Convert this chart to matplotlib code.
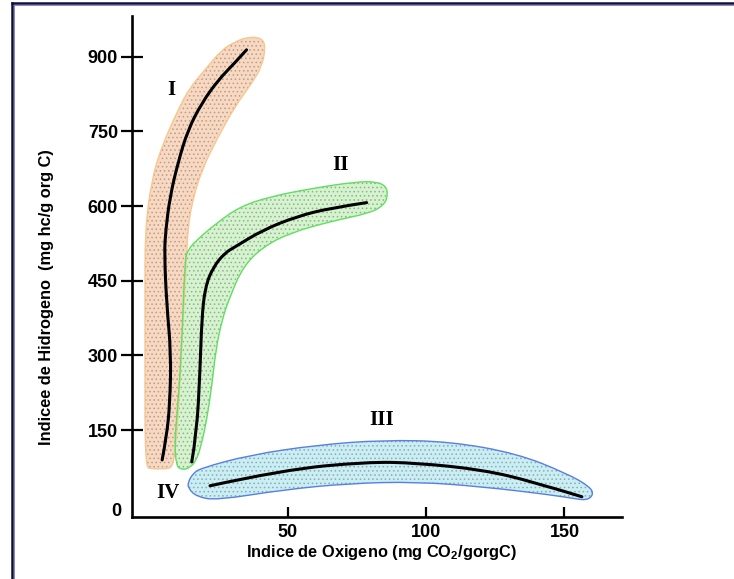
import matplotlib
matplotlib.use("Agg")
from matplotlib import pyplot as plt
from matplotlib.lines import Line2D
from matplotlib.path import Path
from matplotlib.patches import PathPatch

plt.rcParams['font.family'] = ['Liberation Sans', 'DejaVu Sans']
plt.rcParams['hatch.linewidth'] = 0.6

# eje x: indice de oxigeno, eje y: indice de hidrogeno
xticks = [50, 100, 150]
yticks = [150, 300, 450, 600, 750, 900]

# tipo I - linea central
tipo1_x = [4.6, 6.2, 7.4, 7.8, 6.2, 5.4, 5.9, 7.4, 10.3, 13.9, 18.9, 24.8, 30.9, 35.1]
tipo1_y = [90, 137, 204, 305, 405, 506, 552, 618, 687, 753, 807, 853, 888, 914]
# tipo I - zona sombreada
zona1_x = [-1.0, -1.6, -1.6, -1.6, -1.6, 0.8, 4.4, 10.3, 14.6, 20.1, 26.1, 30.9, 35.6, 40.6,
           42.0, 40.6, 37.0, 30.9, 24.8, 18.9, 15.3, 13.9, 13.5, 12.1, 11.0, 9.8, 8.9, 8.0,
           6.7, 0.2]
zona1_y = [76, 130, 251, 412, 552, 653, 719, 793, 838, 874, 914, 930, 940, 938,
           920, 880, 847, 800, 739, 673, 606, 552, 506, 371, 237, 137, 90, 76,
           72, 72]

# tipo II
tipo2_x = [15.3, 17.1, 18.3, 18.9, 20.1, 23.1, 27.3, 30.9, 41.0, 53.2, 65.3, 78.5]
tipo2_y = [86, 144, 271, 371, 437, 478, 506, 518, 552, 579, 596, 607]
zona2_x = [9.6, 9.2, 9.8, 11.6, 12.8, 13.9, 17.1, 24.3, 32.7, 43.6, 59.1, 74.9, 82.1,
           85.5, 86.2, 84.8, 79.7, 65.3, 50.8, 41.0, 33.8, 29.1, 26.2, 24.0, 22.6,
           20.7, 18.9, 17.1, 14.6, 11.8]
zona2_y = [78, 130, 170, 305, 492, 512, 532, 566, 599, 619, 636, 649, 649,
           640, 622, 602, 586, 569, 546, 518, 478, 418, 371, 311, 241,
           170, 124, 90, 74, 70]

# tipo III
tipo3_x = [21.9, 48.3, 78.5, 96.6, 120.6, 138.7, 156.3]
tipo3_y = [38, 70, 86, 84, 70, 46, 16]
zona3_x = [14.0, 15.7, 18.3, 36.3, 60.5, 84.4, 108.6, 132.8, 150.8, 159.3, 160.5,
           158.1, 153.8, 144.8, 120.6, 96.6, 72.5, 48.3, 24.3, 17.1, 14.0]
zona3_y = [46, 62, 73, 100, 120, 130, 127, 103, 63, 36, 20,
           9, 12, 20, 36, 46, 43, 30, 9, 16, 33]

zonas = [(zona1_x, zona1_y, '#fbd8bd', '#f8c690'),
         (zona2_x, zona2_y, '#d3f5cb', '#62de62'),
         (zona3_x, zona3_y, '#c6eff6', '#5a7fe0')]
lineas = [(tipo1_x, tipo1_y), (tipo2_x, tipo2_y), (tipo3_x, tipo3_y)]

etiquetas = ['I', 'II', 'III', 'IV']
etiq_x = [8.1, 68.9, 84.1, 6.7]
etiq_y = [833, 683, 170, 24]


def camino(xs, ys, cerrado):
    # curva suave: los puntos leidos sirven de control de curvas cuadraticas
    pts = list(zip(xs, ys))
    medio = lambda a, b: ((a[0] + b[0]) / 2, (a[1] + b[1]) / 2)
    if cerrado:
        pts = pts + pts[:2]
        verts = [medio(pts[0], pts[1])]
        codes = [Path.MOVETO]
        for i in range(1, len(pts) - 1):
            verts += [pts[i], medio(pts[i], pts[i + 1])]
            codes += [Path.CURVE3, Path.CURVE3]
        return Path(verts, codes)
    verts = [pts[0]]
    codes = [Path.MOVETO]
    for i in range(1, len(pts) - 1):
        fin = medio(pts[i], pts[i + 1]) if i < len(pts) - 2 else pts[i + 1]
        verts += [pts[i], fin]
        codes += [Path.CURVE3, Path.CURVE3]
    return Path(verts, codes)


fig = plt.figure(figsize=(7.34, 5.79), dpi=100)
ax = fig.add_axes([132/734, 62/579, 490/734, 501/579])
ax.set_xlim(-6.3, 170.8)
ax.set_ylim(-24.7, 982)

for zx, zy, cara, borde in zonas:
    p = camino(zx, zy, True)
    ax.add_patch(PathPatch(p, facecolor=cara, edgecolor='none', zorder=1))
    ax.add_patch(PathPatch(p, facecolor='none', edgecolor='#a3a3a3', linewidth=0, hatch='....', zorder=2))
    ax.add_patch(PathPatch(p, facecolor='none', edgecolor=borde, linewidth=1.0, zorder=3))

for lx, ly in lineas:
    ax.add_patch(PathPatch(camino(lx, ly, False), facecolor='none', edgecolor='black',
                           linewidth=2.2, capstyle='round', zorder=4))

for t, tx, ty in zip(etiquetas, etiq_x, etiq_y):
    ax.text(tx, ty, t, family='Liberation Serif', weight='bold', fontsize=15,
            ha='center', va='center', zorder=5)

# ejes
for s in ['top', 'right']:
    ax.spines[s].set_visible(False)
for s in ['left', 'bottom']:
    ax.spines[s].set_linewidth(1.9)
ax.set_xticks(xticks)
ax.set_yticks(yticks)
ax.tick_params(axis='y', direction='inout', length=16, width=1.6, labelsize=13, pad=2)
ax.tick_params(axis='x', direction='in', length=7, width=1.6, labelsize=13, pad=5)
for lab in ax.get_xticklabels() + ax.get_yticklabels():
    lab.set_fontweight('bold')
ax.text(-11.8, -12.7, '0', fontsize=13, weight='bold', ha='center', va='center')

ax.set_xlabel('Indice de Oxigeno (mg CO$_\\mathregular{2}$/gorgC)', fontsize=11.8, weight='bold')
ax.set_ylabel('Indicee de Hidrogeno  (mg hc/g org C)', fontsize=11.8, weight='bold')
ax.xaxis.set_label_coords(0.51, -0.052)
ax.yaxis.set_label_coords(-0.16, 0.439)

# marco
fig.add_artist(Line2D([12/734, 12/734], [0, 1 - 3/579], color='#10103a', linewidth=1.8))
fig.add_artist(Line2D([12/734, 1], [1 - 3/579, 1 - 3/579], color='#10103a', linewidth=1.8))
fig.add_artist(Line2D([13.5/734, 13.5/734], [0, 1 - 4.5/579], color='#7070d0', linewidth=0.6))
fig.add_artist(Line2D([13.5/734, 1], [1 - 4.5/579, 1 - 4.5/579], color='#7070d0', linewidth=0.6))

fig.savefig('out.png', dpi=100)
